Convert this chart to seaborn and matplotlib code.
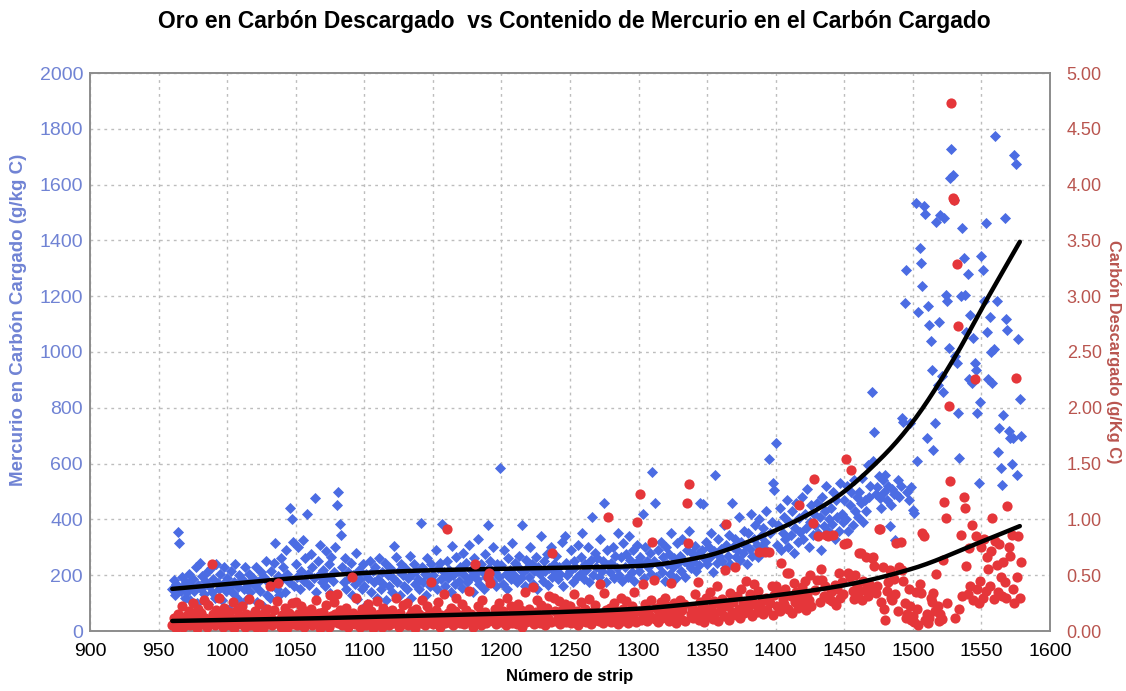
import numpy as np
import pandas as pd
import matplotlib
matplotlib.use("Agg")
import matplotlib.pyplot as plt
import seaborn as sns

# Strip numbers 960..1579, one mercury and one gold reading per strip
first_strip = 960
last_strip = 1579

# Mercury on loaded carbon, g/kg C (left axis), 10 strips per row
hg_loaded = [
    150, 182, 128, 170, 355, 316, 145, 195, 160, 120,
    175, 138, 205, 112, 160, 188, 142, 230, 100, 165,
    244, 150, 196, 132, 178, 210, 95, 160, 225, 138,
    185, 120, 240, 172, 150, 205, 110, 168, 230, 145,
    190, 80, 160, 215, 135, 176, 240, 120, 158, 200,
    95, 185, 150, 228, 111, 170, 205, 140, 62, 190,
    160, 230, 105, 178, 142, 212, 88, 195, 250, 130,
    176, 120, 215, 160, 245, 316, 150, 198, 130, 260,
    185, 228, 140, 290, 205, 175, 440, 400, 320, 160,
    240, 195, 300, 150, 215, 327, 180, 260, 420, 205,
    165, 275, 230, 190, 478, 140, 250, 200, 310, 175,
    220, 160, 285, 195, 240, 135, 265, 180, 210, 300,
    452, 500, 385, 345, 230, 175, 260, 150, 210, 190,
    245, 130, 200, 170, 280, 115, 220, 185, 150, 240,
    160, 205, 95, 190, 250, 140, 215, 175, 230, 120,
    185, 262, 150, 210, 170, 245, 110, 200, 160, 225,
    140, 190, 305, 266, 175, 215, 130, 240, 200, 160,
    225, 150, 190, 270, 120, 205, 240, 170, 215, 185,
    150, 388, 230, 175, 205, 130, 260, 195, 160, 240,
    200, 175, 290, 150, 225, 245, 185, 384, 210, 160,
    250, 190, 220, 140, 305, 200, 170, 265, 215, 180,
    230, 155, 280, 200, 245, 175, 310, 190, 220, 140,
    260, 205, 185, 330, 170, 240, 215, 150, 275, 195,
    380, 225, 250, 180, 300, 210, 160, 240, 195, 585,
    235, 170, 290, 205, 150, 260, 220, 185, 315, 200,
    245, 175, 230, 270, 190, 380, 210, 160, 255, 225,
    195, 300, 240, 170, 215, 265, 150, 230, 205, 340,
    180, 250, 215, 275, 165, 225, 300, 195, 240, 210,
    270, 185, 230, 205, 320, 160, 341, 245, 200, 225,
    215, 290, 175, 250, 230, 195, 310, 205, 265, 352,
    185, 240, 220, 300, 175, 255, 410, 200, 280, 230,
    260, 195, 330, 215, 250, 460, 175, 290, 235, 210,
    245, 300, 190, 270, 225, 350, 200, 265, 180, 315,
    230, 275, 195, 340, 255, 210, 290, 180, 245, 310,
    215, 265, 240, 420, 190, 300, 250, 230, 280, 205,
    571, 250, 460, 195, 290, 235, 320, 210, 265, 180,
    300, 240, 275, 205, 350, 230, 260, 190, 315, 245,
    270, 215, 330, 250, 195, 290, 240, 360, 225, 280,
    250, 305, 215, 275, 235, 460, 290, 455, 260, 320,
    240, 300, 265, 350, 210, 285, 560, 245, 330, 270,
    295, 250, 380, 225, 310, 270, 345, 240, 460, 300,
    330, 265, 290, 410, 255, 320, 280, 360, 305, 240,
    350, 295, 420, 270, 330, 380, 310, 265, 400, 340,
    300, 370, 320, 430, 285, 617, 350, 390, 531, 506,
    675, 310, 380, 440, 290, 350, 410, 330, 470, 300,
    390, 345, 430, 280, 370, 460, 320, 405, 355, 480,
    330, 420, 370, 510, 300, 390, 450, 345, 420, 380,
    460, 350, 410, 290, 480, 375, 430, 520, 360, 400,
    440, 385, 500, 330, 470, 410, 360, 530, 420, 390,
    470, 400, 520, 360, 450, 500, 380, 540, 430, 480,
    410, 500, 460, 550, 390, 470, 430, 596, 480, 520,
    855, 610, 715, 490, 516, 554, 478, 440, 542, 500,
    560, 470, 520, 377, 450, 510, 490, 326, 491, 540,
    480, 520, 763, 750, 1174, 1294, 500, 470, 744, 516,
    434, 424, 1534, 610, 1142, 1374, 1319, 1237, 1522, 1496,
    690, 1164, 1098, 1041, 936, 650, 744, 1467, 880, 1108,
    1490, 913, 858, 1480, 1203, 1183, 1016, 1623, 1728, 1636,
    1545, 987, 959, 780, 620, 1199, 1446, 1336, 1205, 1073,
    1281, 902, 1133, 889, 1050, 959, 934, 782, 529, 820,
    1345, 1294, 1184, 1462, 1070, 902, 1127, 999, 889, 1009,
    1775, 1184, 640, 727, 586, 522, 775, 1480, 1119, 1079,
    716, 690, 600, 690, 1705, 1673, 560, 1047, 830, 700,
]

# Gold on discharged carbon, g/kg C (right axis), 10 strips per row
au_discharged = [
    0.05, 0.12, 0.08, 0.03, 0.15, 0.06, 0.10, 0.22, 0.04, 0.09,
    0.13, 0.07, 0.18, 0.05, 0.11, 0.25, 0.08, 0.14, 0.03, 0.20,
    0.09, 0.16, 0.06, 0.28, 0.12, 0.04, 0.23, 0.10, 0.07, 0.60,
    0.15, 0.05, 0.19, 0.09, 0.30, 0.07, 0.13, 0.04, 0.21, 0.11,
    0.08, 0.17, 0.05, 0.12, 0.26, 0.03, 0.10, 0.19, 0.07, 0.14,
    0.06, 0.22, 0.09, 0.04, 0.15, 0.11, 0.29, 0.05, 0.13, 0.08,
    0.18, 0.04, 0.10, 0.24, 0.07, 0.13, 0.03, 0.16, 0.09, 0.20,
    0.06, 0.40, 0.12, 0.05, 0.19, 0.08, 0.27, 0.43, 0.10, 0.04,
    0.14, 0.07, 0.21, 0.09, 0.03, 0.16, 0.11, 0.25, 0.06, 0.12,
    0.26, 0.05, 0.15, 0.08, 0.22, 0.10, 0.04, 0.18, 0.13, 0.07,
    0.09, 0.20, 0.05, 0.14, 0.11, 0.28, 0.07, 0.16, 0.03, 0.12,
    0.17, 0.06, 0.23, 0.10, 0.04, 0.32, 0.13, 0.08, 0.26, 0.15,
    0.33, 0.07, 0.19, 0.11, 0.05, 0.14, 0.09, 0.21, 0.04, 0.12,
    0.08, 0.48, 0.16, 0.06, 0.30, 0.10, 0.13, 0.04, 0.20, 0.09,
    0.14, 0.05, 0.11, 0.24, 0.07, 0.18, 0.03, 0.12, 0.09, 0.27,
    0.06, 0.15, 0.10, 0.04, 0.21, 0.08, 0.13, 0.17, 0.05, 0.11,
    0.19, 0.07, 0.12, 0.30, 0.09, 0.04, 0.16, 0.10, 0.23, 0.06,
    0.11, 0.25, 0.05, 0.14, 0.08, 0.18, 0.12, 0.03, 0.20, 0.09,
    0.15, 0.07, 0.28, 0.10, 0.05, 0.13, 0.22, 0.08, 0.17, 0.44,
    0.06, 0.12, 0.19, 0.09, 0.26, 0.04, 0.14, 0.10, 0.33, 0.07,
    0.91, 0.16, 0.08, 0.21, 0.12, 0.05, 0.18, 0.30, 0.10, 0.14,
    0.07, 0.24, 0.13, 0.06, 0.19, 0.11, 0.36, 0.09, 0.15, 0.04,
    0.12, 0.60, 0.08, 0.22, 0.14, 0.05, 0.28, 0.10, 0.17, 0.07,
    0.48, 0.52, 0.43, 0.13, 0.09, 0.20, 0.06, 0.15, 0.25, 0.11,
    0.08, 0.18, 0.12, 0.05, 0.30, 0.14, 0.09, 0.22, 0.07, 0.16,
    0.13, 0.06, 0.24, 0.10, 0.19, 0.04, 0.15, 0.35, 0.08, 0.12,
    0.20, 0.09, 0.14, 0.39, 0.06, 0.17, 0.28, 0.11, 0.07, 0.23,
    0.10, 0.15, 0.05, 0.21, 0.12, 0.31, 0.08, 0.70, 0.30, 0.18,
    0.09, 0.14, 0.27, 0.06, 0.19, 0.11, 0.24, 0.08, 0.16, 0.13,
    0.22, 0.07, 0.12, 0.33, 0.10, 0.18, 0.05, 0.15, 0.26, 0.09,
    0.14, 0.20, 0.08, 0.12, 0.29, 0.06, 0.17, 0.11, 0.23, 0.10,
    0.16, 0.09, 0.42, 0.13, 0.07, 0.34, 0.19, 0.11, 1.02, 0.21,
    0.08, 0.15, 0.25, 0.10, 0.18, 0.06, 0.13, 0.30, 0.09, 0.20,
    0.12, 0.27, 0.07, 0.16, 0.11, 0.22, 0.14, 0.35, 0.08, 0.98,
    0.18, 1.23, 0.10, 0.42, 0.15, 0.24, 0.09, 0.19, 0.13, 0.28,
    0.80, 0.46, 0.11, 0.21, 0.08, 0.16, 0.26, 0.12, 0.19, 0.30,
    0.14, 0.22, 0.09, 0.18, 0.43, 0.13, 0.25, 0.07, 0.20, 0.16,
    0.28, 0.11, 0.19, 0.24, 0.09, 1.15, 0.79, 1.32, 0.15, 0.21,
    0.12, 0.33, 0.18, 0.44, 0.10, 0.26, 0.16, 0.22, 0.08, 0.30,
    0.19, 0.13, 0.35, 0.21, 0.11, 0.27, 0.16, 0.40, 0.09, 0.24,
    0.18, 0.29, 0.13, 0.55, 0.96, 0.22, 0.10, 0.34, 0.17, 0.26,
    0.57, 0.14, 0.31, 0.20, 0.12, 0.38, 0.25, 0.16, 0.45, 0.22,
    0.19, 0.33, 0.28, 0.13, 0.42, 0.24, 0.17, 0.36, 0.71, 0.21,
    0.27, 0.15, 0.71, 0.30, 0.19, 0.71, 0.25, 0.40, 0.14, 0.32,
    0.40, 0.22, 0.35, 0.18, 0.61, 0.29, 0.24, 0.38, 0.52, 0.20,
    0.52, 0.31, 0.16, 0.43, 0.26, 0.35, 0.21, 1.13, 0.30, 0.39,
    0.24, 0.45, 0.19, 0.33, 0.28, 0.50, 0.22, 0.97, 1.36, 0.37,
    0.46, 0.85, 0.26, 0.56, 0.46, 0.31, 0.40, 0.86, 0.85, 0.29,
    0.35, 0.27, 0.86, 0.41, 0.23, 0.38, 0.52, 0.30, 0.44, 0.33,
    0.78, 1.54, 0.79, 0.52, 0.48, 1.44, 0.36, 0.29, 0.50, 0.41,
    0.34, 0.70, 0.70, 0.28, 0.45, 0.37, 0.66, 0.31, 0.42, 0.37,
    0.65, 0.66, 0.58, 0.34, 0.40, 0.91, 0.91, 0.26, 0.57, 0.20,
    0.10, 0.36, 0.44, 0.55, 0.30, 0.28, 0.47, 0.33, 0.79, 0.18,
    0.57, 0.80, 0.55, 0.45, 0.25, 0.12, 0.15, 0.38, 0.22, 0.10,
    0.13, 0.08, 0.35, 0.20, 0.05, 0.42, 0.34, 0.88, 0.85, 0.10,
    0.15, 0.07, 0.12, 0.30, 0.26, 0.34, 0.18, 0.51, 0.22, 0.09,
    0.15, 0.11, 0.64, 1.16, 1.01, 0.25, 2.02, 1.34, 4.73, 3.88,
    3.86, 0.12, 3.29, 2.73, 0.20, 0.86, 0.31, 1.20, 1.10, 0.58,
    0.33, 0.74, 0.40, 0.95, 0.28, 2.26, 0.85, 0.38, 0.25, 0.45,
    0.75, 0.30, 0.82, 0.36, 0.66, 0.56, 0.40, 0.72, 1.01, 0.29,
    0.81, 0.59, 0.35, 0.78, 0.48, 0.31, 0.62, 0.44, 0.30, 1.12,
    0.75, 0.67, 0.86, 0.38, 0.25, 2.27, 0.48, 0.85, 0.30, 0.62,
]

# Trend curves (mercury on left scale, gold on right scale)
hg_trend_strip = [960, 1000, 1050, 1100, 1150, 1228, 1300, 1345, 1390, 1440, 1478, 1500, 1531, 1553, 1578]
hg_trend_value = [151, 168, 190, 208, 218, 225, 233, 264, 340, 465, 625, 750, 985, 1180, 1395]
au_trend_strip = [960, 1050, 1133, 1230, 1300, 1345, 1393, 1450, 1500, 1550, 1578]
au_trend_value = [0.09, 0.11, 0.135, 0.165, 0.20, 0.25, 0.31, 0.41, 0.56, 0.80, 0.94]

x_ticks = list(range(900, 1601, 50))
left_ticks = list(range(0, 2001, 200))
right_ticks = [0.0, 0.5, 1.0, 1.5, 2.0, 2.5, 3.0, 3.5, 4.0, 4.5, 5.0]

title_text = "Oro en Carbón Descargado  vs Contenido de Mercurio en el Carbón Cargado"
x_label = "Número de strip"
left_label = "Mercurio en Carbón Cargado (g/kg C)"
right_label = "Carbón Descargado (g/Kg C)"

BLUE = "#4b6ce3"
RED = "#e5363a"
LEFT_TEXT = "#7083d4"
RIGHT_TEXT = "#b9554f"

sns.set_theme(style="white")
plt.rcParams["font.family"] = ["Liberation Sans", "DejaVu Sans"]

strips = np.arange(first_strip, last_strip + 1)
df = pd.DataFrame({"strip": strips, "hg": hg_loaded, "au": au_discharged})


def monotone_curve(xk, yk, n=400):
    """Shape-preserving cubic (Fritsch-Carlson) through the trend knots."""
    x = np.asarray(xk, float)
    y = np.asarray(yk, float)
    h = np.diff(x)
    delta = np.diff(y) / h
    d = np.zeros_like(x)
    d[0], d[-1] = delta[0], delta[-1]
    for k in range(1, len(x) - 1):
        if delta[k - 1] * delta[k] > 0:
            w1 = 2 * h[k] + h[k - 1]
            w2 = h[k] + 2 * h[k - 1]
            d[k] = (w1 + w2) / (w1 / delta[k - 1] + w2 / delta[k])
    xx = np.linspace(x[0], x[-1], n)
    idx = np.clip(np.searchsorted(x, xx) - 1, 0, len(x) - 2)
    t = (xx - x[idx]) / h[idx]
    h00 = 2 * t**3 - 3 * t**2 + 1
    h10 = t**3 - 2 * t**2 + t
    h01 = -2 * t**3 + 3 * t**2
    h11 = t**3 - t**2
    yy = h00 * y[idx] + h10 * h[idx] * d[idx] + h01 * y[idx + 1] + h11 * h[idx] * d[idx + 1]
    return pd.DataFrame({"strip": xx, "v": yy})


fig = plt.figure(figsize=(11.26, 6.91), dpi=100)
ax = fig.add_axes([90 / 1126, 60 / 691, 960 / 1126, 558 / 691])
ax2 = ax.twinx()

sns.scatterplot(data=df, x="strip", y="hg", ax=ax, marker="D", s=32,
                color=BLUE, linewidth=0, zorder=3)
sns.lineplot(data=monotone_curve(hg_trend_strip, hg_trend_value), x="strip", y="v",
             ax=ax, color="black", linewidth=3.2, zorder=4)

sns.scatterplot(data=df, x="strip", y="au", ax=ax2, marker="o", s=54,
                color=RED, linewidth=0, zorder=3)
sns.lineplot(data=monotone_curve(au_trend_strip, au_trend_value), x="strip", y="v",
             ax=ax2, color="black", linewidth=3.2, zorder=4)

ax.set_xlim(900, 1600)
ax.set_ylim(0, 2000)
ax2.set_ylim(0, 5)

ax.set_xticks(x_ticks)
ax.set_xticklabels([str(t) for t in x_ticks], fontsize=14, color="black")
ax.set_yticks(left_ticks)
ax.set_yticklabels([str(t) for t in left_ticks], fontsize=14, color=LEFT_TEXT)
ax2.set_yticks(right_ticks)
ax2.set_yticklabels([f"{t:.2f}" for t in right_ticks], fontsize=13, color=RIGHT_TEXT)

ax.grid(True, color="#bdbdbd", linestyle=(0, (2, 3)), linewidth=1)
ax.set_axisbelow(True)
ax2.grid(False)

for a in (ax, ax2):
    for sp in a.spines.values():
        sp.set_color("#8c8c8c")
        sp.set_linewidth(1.2)
ax.tick_params(axis="x", length=4, color="#8c8c8c", pad=5)
ax.tick_params(axis="y", length=0, pad=5)
ax2.tick_params(axis="y", length=0, pad=12)

ax.set_xlabel(x_label, fontsize=12, fontweight="bold", color="black", labelpad=6)
ax.set_ylabel(left_label, fontsize=13.5, fontweight="bold", color=LEFT_TEXT)
ax.yaxis.set_label_coords(-0.066, 0.557)
ax2.set_ylabel(right_label, fontsize=11.8, fontweight="bold", color=RIGHT_TEXT,
               rotation=270, labelpad=14)

fig.suptitle(title_text, x=0.51, y=0.985, fontsize=16.5, fontweight="bold", color="black")

fig.savefig("out.png", dpi=100)
